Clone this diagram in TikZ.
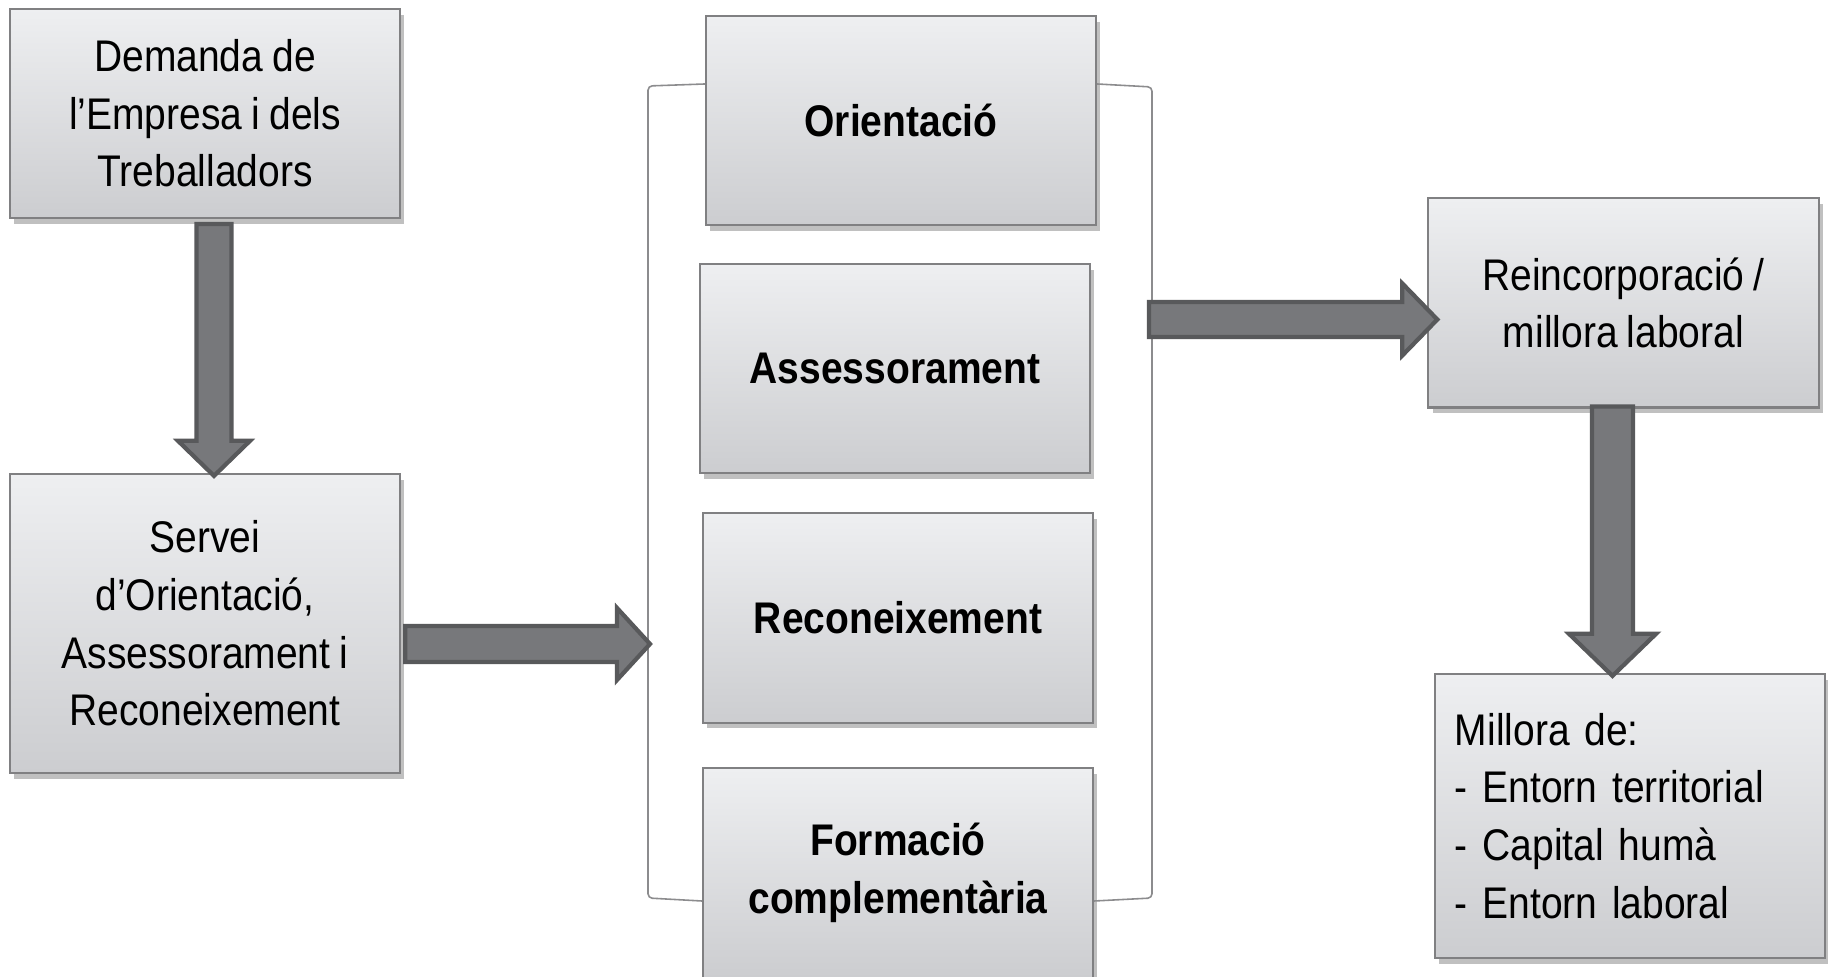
\documentclass[tikz,border=0pt]{standalone}
\usepackage{fontspec}
\setmainfont[FakeStretch=0.88,WordSpace=0.85]{Liberation Sans}
\usetikzlibrary{calc,shadows}

\definecolor{boxtop}{RGB}{238,239,241}
\definecolor{boxbottom}{RGB}{204,205,208}
\definecolor{boxline}{RGB}{128,128,130}
\definecolor{arrowfill}{RGB}{119,120,123}
\definecolor{arrowline}{RGB}{88,89,91}
\definecolor{bracketgray}{RGB}{140,140,142}

% block arrows: start, tip, half shaft, half head, head length
\newcommand{\blockdown}[5]{%
  \draw[blockarrow] ($(#1)+(-#3,0)$) -- ($(#1)+(#3,0)$) -- ($(#2)+(#3,-#5)$) -- ($(#2)+(#4,-#5)$) -- (#2) -- ($(#2)+(-#4,-#5)$) -- ($(#2)+(-#3,-#5)$) -- cycle;}
\newcommand{\blockright}[5]{%
  \draw[blockarrow] ($(#1)+(0,-#3)$) -- ($(#2)+(-#5,-#3)$) -- ($(#2)+(-#5,-#4)$) -- (#2) -- ($(#2)+(-#5,#4)$) -- ($(#2)+(-#5,#3)$) -- ($(#1)+(0,#3)$) -- cycle;}

\begin{document}
\begin{tikzpicture}[x=0.01cm, y=-0.01cm,
    box/.style={draw=boxline, line width=0.6pt, top color=boxtop, bottom color=boxbottom,
      minimum width=3.9cm, minimum height=2.09cm, inner sep=0pt, align=center,
      font=\fontsize{12.6pt}{16.4pt}\selectfont,
      drop shadow={shadow xshift=1.2pt, shadow yshift=-1.6pt, opacity=0.35, fill=black!70}},
    boldbox/.style={box, font=\fontsize{12.6pt}{16.4pt}\selectfont\bfseries},
    blockarrow/.style={fill=arrowfill, draw=arrowline, line width=1.2pt, line join=miter},
    bracket/.style={draw=bracketgray, line width=0.45pt, rounded corners=1.2pt}]
  \path[use as bounding box, fill=white] (0,0) rectangle (1828,977);

  \node[box] (dem) at (205,113.5) {Demanda de\\l’Empresa i dels\\Treballadors};
  \node[box, minimum height=2.99cm] (serv) at (205,623.5) {Servei\\d’Orientació,\\Assessorament i\\Reconeixement};

  \node[boldbox] (orient) at (901,120.5) {Orientació};
  \node[boldbox] (assess) at (895,368.5) {Assessorament};
  \node[boldbox] (recon) at (898,618) {Reconeixement};
  \node[boldbox] (form) at (898,873) {Formació\\complementària};

  \node[box] (reinc) at (1623.5,303) {Reincorporació /\\millora laboral};
  \node[box, minimum height=2.84cm, text width=3.5cm, inner xsep=0.2cm, align=left] (millora) at (1630,816)
    {Millora de:\\- Entorn territorial\\- Capital humà\\- Entorn laboral};

  % the bracket round the four services
  \coordinate (brkl) at (648,86);
  \coordinate (brkr) at (1152,87);
  \draw[bracket] ($(orient.west)+(0,-36.5)$) -- (brkl) -- (648,898) -- ($(form.west)+(0,28)$);
  \draw[bracket] ($(orient.east)+(0,-36.5)$) -- (brkr) -- (1152,898) -- ($(form.east)+(0,28)$);

  % arrows
  \coordinate (a1s) at ($(dem.south)+(9,5)$);
  \coordinate (a1e) at ($(a1s |- serv.north)+(0,3)$);
  \blockdown{a1s}{a1e}{17.5}{36}{35}

  \coordinate (a2s) at ($(serv.east)+(4,20.5)$);
  \coordinate (a2e) at ($(a2s -| brkl)+(2,0)$);
  \blockright{a2s}{a2e}{18}{36}{33}

  \coordinate (a3e) at ($(reinc.west)+(10,16.5)$);
  \coordinate (a3s) at ($(a3e -| brkr)+(-3,0)$);
  \blockright{a3s}{a3e}{17.5}{36}{35}

  \coordinate (a4s) at ($(reinc.south)+(-11,-2)$);
  \coordinate (a4e) at ($(a4s |- millora.north)+(0,3)$);
  \blockdown{a4s}{a4e}{20.5}{43.5}{42}
\end{tikzpicture}
\end{document}
